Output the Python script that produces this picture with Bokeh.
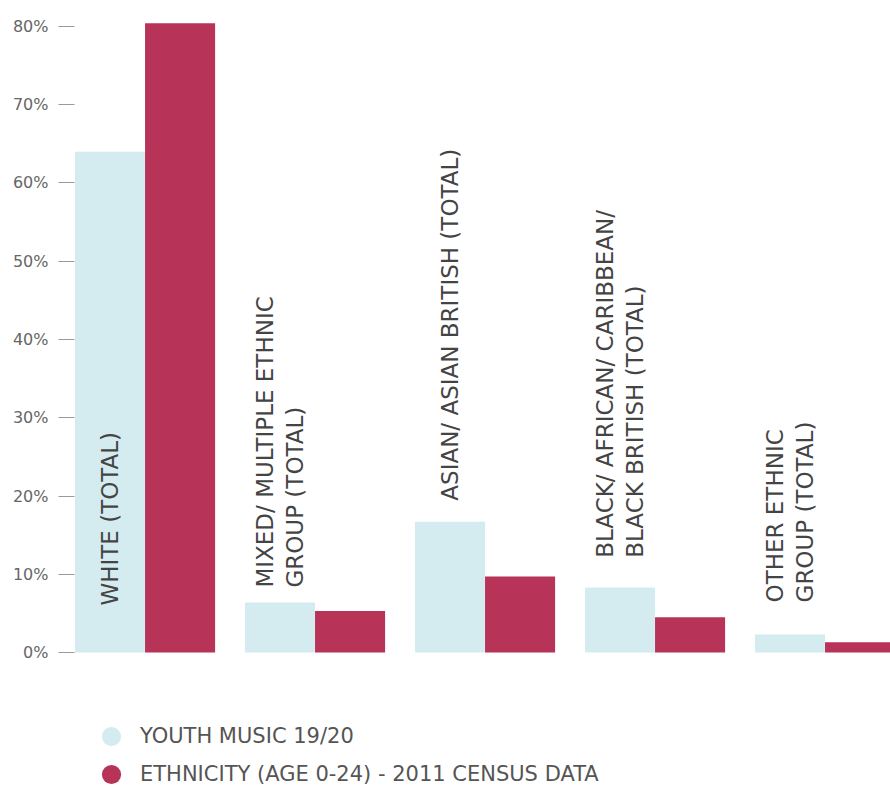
import numpy as np
from bokeh.plotting import figure
from bokeh.models import ColumnDataSource, FixedTicker, Legend, LegendItem, Range1d
from bokeh.core.properties import value
from bokeh.embed import file_html
from bokeh.resources import INLINE

# ---- data ----
categories = [
    "WHITE (TOTAL)",
    "MIXED/ MULTIPLE ETHNIC\nGROUP (TOTAL)",
    "ASIAN/ ASIAN BRITISH  (TOTAL)",
    "BLACK/ AFRICAN/ CARIBBEAN/\nBLACK BRITISH  (TOTAL)",
    "OTHER ETHNIC\nGROUP  (TOTAL)",
]
youth_music = [64.0, 6.4, 16.7, 8.3, 2.3]
census = [80.4, 5.3, 9.7, 4.5, 1.3]
series_names = ["YOUTH MUSIC 19/20", "ETHNICITY (AGE 0-24) - 2011 CENSUS DATA"]
y_ticks = [0, 10, 20, 30, 40, 50, 60, 70, 80]
y_tick_labels = ["0%", "10%", "20%", "30%", "40%", "50%", "60%", "70%", "80%"]

# label anchor (bottom of the rotated category text), in % units
label_base = [6.0, 8.3, 19.4, 12.1, 6.4]

LIGHT = "#d4ecf0"
RED = "#b83358"
FONT = "DejaVu Sans"

idx = np.arange(len(categories))
bar_w = 0.412
src = ColumnDataSource(dict(
    x_light=idx - bar_w / 2,
    x_red=idx + bar_w / 2,
    youth=youth_music,
    census=census,
    label=categories,
    label_y=label_base,
))

p = figure(
    width=890, height=787,
    x_range=Range1d(-0.415, 4.385),
    y_range=Range1d(-17.25, 83.32),
    output_backend="svg", toolbar_location=None,
    x_axis_location=None,
    min_border_left=74, min_border_right=0, min_border_top=0, min_border_bottom=0,
)
p.outline_line_color = None
p.grid.visible = False
p.background_fill_color = "white"
p.border_fill_color = "white"

p.vbar(x="x_light", top="youth", bottom=0, width=bar_w, source=src,
       fill_color=LIGHT, line_color=None)
p.vbar(x="x_red", top="census", bottom=0, width=bar_w, source=src,
       fill_color=RED, line_color=None)

p.text(x="x_light", y="label_y", text="label", source=src, angle=np.pi / 2,
       text_align="left", text_baseline="middle",
       text_font=value(FONT), text_font_size="23px", text_color="#444444",
       text_line_height=1.16)

ax = p.yaxis[0]
ax.ticker = FixedTicker(ticks=y_ticks)
ax.major_label_overrides = {t: l for t, l in zip(y_ticks, y_tick_labels)}
ax.axis_line_color = None
ax.major_tick_in = 0
ax.major_tick_out = 16
ax.major_tick_line_color = "#9a9a9a"
ax.minor_tick_line_color = None
ax.major_label_standoff = 10
ax.major_label_text_font = FONT
ax.major_label_text_font_size = "16px"
ax.major_label_text_color = "#666666"

# legend (circle markers), one Legend per row
r1 = p.scatter(x=[np.nan], y=[np.nan], marker="circle", size=19, fill_color=LIGHT, line_color=None)
r2 = p.scatter(x=[np.nan], y=[np.nan], marker="circle", size=19, fill_color=RED, line_color=None)
common = dict(glyph_width=48, glyph_height=48, label_standoff=5, padding=0, margin=0,
              border_line_color=None, background_fill_alpha=0,
              label_text_font=FONT, label_text_font_size="21px",
              label_text_color="#555555")
leg1 = Legend(items=[LegendItem(label=series_names[0], renderers=[r1])],
              location=(13, 27), **common)
leg2 = Legend(items=[LegendItem(label=series_names[1], renderers=[r2])],
              location=(13, -11), **common)
p.add_layout(leg1)
p.add_layout(leg2)

open("out.html", "w").write(file_html(p, INLINE))
